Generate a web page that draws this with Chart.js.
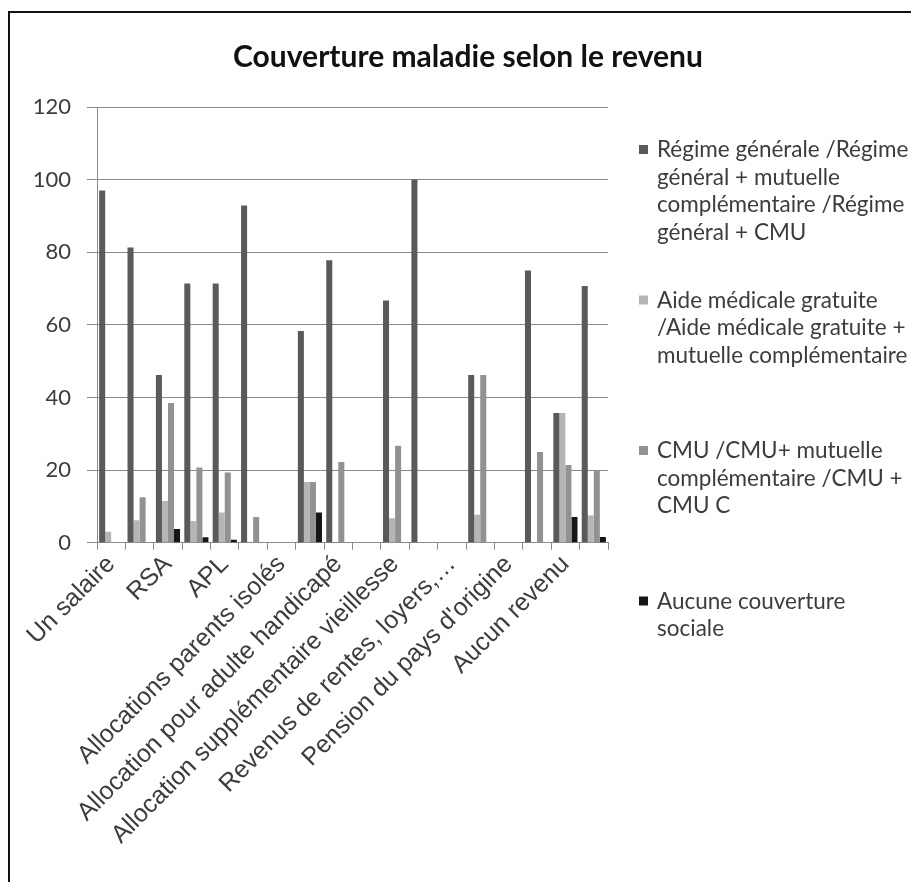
<!DOCTYPE html>
<html>
<head>
<meta charset="utf-8">
<script src="https://cdn.jsdelivr.net/npm/chart.js@4.4.1/dist/chart.umd.min.js"></script>
<style>
  html, body { margin: 0; padding: 0; background: #fff; overflow: hidden; }
  #wrap { position: relative; width: 911px; height: 882px; }
  #wrap canvas { position: absolute; left: 0; top: 0; }
  #frame { position: absolute; left: 8px; top: 11px; width: 1000px; height: 1000px;
           border-left: 2px solid #111; border-top: 2px solid #111; pointer-events: none; }
</style>
</head>
<body>
<div id="wrap">
  <canvas id="chart" width="911" height="882"></canvas>
  <div id="frame"></div>
</div>
<script>
// Income categories (only every other one carries a printed label)
const categories = [
  'Un salaire', '', 'RSA', '', 'APL', '',
  'Allocations parents isolés', '', 'Allocation pour adulte handicapé', '',
  'Allocation supplémentaire vieillesse', '', 'Revenus de rentes, loyers,…', '',
  "Pension du pays d'origine", '', 'Aucun revenu', ''
];

// Share (%) of each type of health coverage
const regimeGeneral = [97, 81.3, 46.2, 71.4, 71.4, 92.9, 0, 58.3, 77.8, 0, 66.7, 100, 0, 46.2, 0, 75, 35.7, 70.7];
const aideMedicale  = [3, 6.2, 11.5, 6.0, 8.3, 0, 0, 16.7, 0, 0, 6.7, 0, 0, 7.7, 0, 0, 35.7, 7.5];
const cmu           = [0, 12.5, 38.5, 20.7, 19.3, 7.1, 0, 16.7, 22.2, 0, 26.7, 0, 0, 46.2, 0, 25, 21.4, 20];
const aucune        = [0, 0, 3.8, 1.5, 0.8, 0, 0, 8.3, 0, 0, 0, 0, 0, 0, 0, 0, 7.1, 1.6];

// Series names, split into the lines used in the legend
const seriesNames = [
  ['Régime générale /Régime', 'général + mutuelle', 'complémentaire /Régime', 'général + CMU'],
  ['Aide médicale gratuite', '/Aide médicale gratuite +', 'mutuelle complémentaire'],
  ['CMU /CMU+ mutuelle', 'complémentaire /CMU +', 'CMU C'],
  ['Aucune couverture', 'sociale']
];
const seriesColors = ['#5a5a5a', '#b5b5b5', '#929292', '#161616'];

const yTicks = { min: 0, max: 120, step: 20 };
const chartTitle = 'Couverture maladie selon le revenu';

const seriesValues = [regimeGeneral, aideMedicale, cmu, aucune];

// Title and multi-line legend drawn on the canvas
const decorations = {
  id: 'decorations',
  afterDraw(chart) {
    const ctx = chart.ctx;
    ctx.save();
    ctx.fillStyle = '#111';
    ctx.font = 'bold 30px Lato';
    ctx.textAlign = 'center';
    ctx.textBaseline = 'middle';
    ctx.fillText(chartTitle, 468, 57);

    ctx.textAlign = 'left';
    ctx.font = '22.5px Lato';
    chart.data.datasets.forEach((ds, i) => {
      const y0 = 150 + i * 150.5;
      ctx.fillStyle = ds.backgroundColor;
      ctx.fillRect(639, y0 - 5, 9, 9);
      ctx.fillStyle = '#3c3c3c';
      seriesNames[i].forEach((line, j) => ctx.fillText(line, 657, y0 + j * 27.6));
    });
    ctx.restore();
  }
};

const gridColor = '#8a8a8a';

new Chart(document.getElementById('chart'), {
  type: 'bar',
  data: {
    labels: categories,
    datasets: seriesValues.map((vals, i) => ({
      label: seriesNames[i].join(' '),
      data: vals,
      backgroundColor: seriesColors[i],
      borderWidth: 0,
      categoryPercentage: 0.85,
      barPercentage: 1.0
    }))
  },
  options: {
    responsive: false,
    animation: false,
    devicePixelRatio: 1,
    layout: { padding: { left: 0, right: 303, top: 107, bottom: 0 } },
    plugins: {
      legend: { display: false },
      title: { display: false },
      tooltip: { enabled: false }
    },
    scales: {
      x: {
        offset: true,
        grid: { display: true, drawOnChartArea: false, offset: true, color: gridColor, tickLength: 7 },
        border: { display: true, color: gridColor },
        ticks: {
          autoSkip: false,
          maxRotation: 45,
          minRotation: 45,
          padding: 0,
          color: '#3c3c3c',
          font: { family: 'Liberation Sans', size: 25 }
        },
        afterFit(scale) { scale.height = 882 - 542.7; }
      },
      y: {
        min: yTicks.min,
        max: yTicks.max,
        grid: { color: gridColor, tickLength: 10 },
        border: { display: true, color: gridColor },
        ticks: {
          stepSize: yTicks.step,
          padding: 16,
          color: '#3c3c3c',
          font: { family: 'Lato', size: 22 }
        },
        afterFit(scale) { scale.width = 97; }
      }
    }
  },
  plugins: [decorations]
});
</script>
</body>
</html>
